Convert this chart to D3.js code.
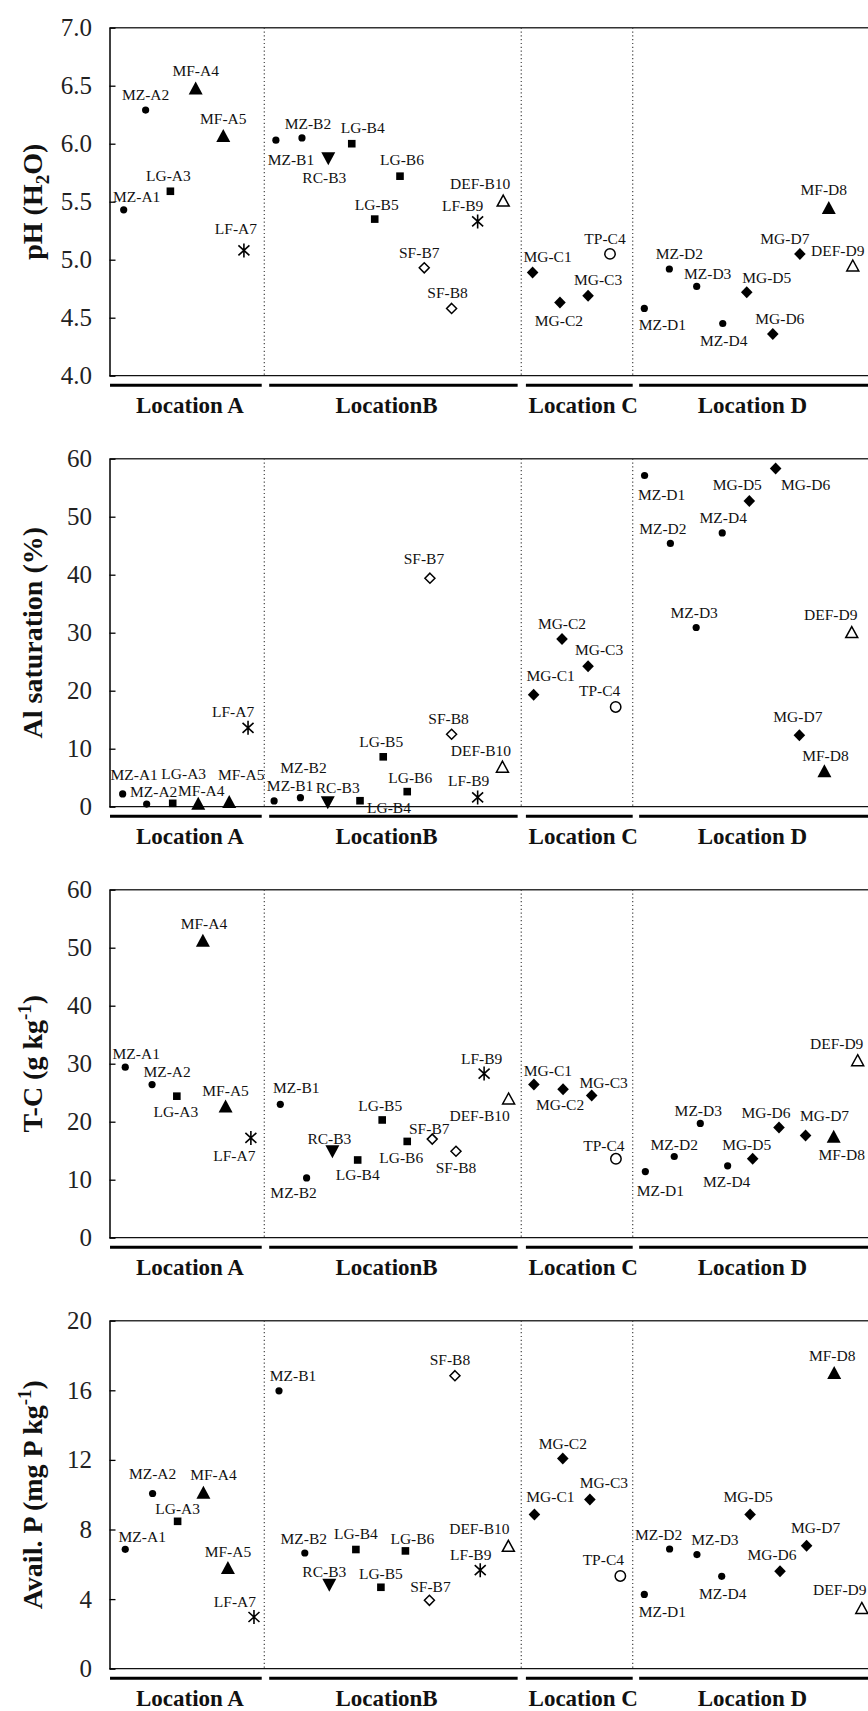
<!DOCTYPE html>
<html><head><meta charset="utf-8">
<script src="https://cdn.jsdelivr.net/npm/d3@7"></script>
<style>
body{margin:0;background:#fff}
svg{display:block}
svg text{font-family:"Liberation Serif","DejaVu Serif","Noto Serif","Liberation Sans",Arial,sans-serif;}
</style>
</head><body>
<svg id="chart" width="868" height="1711"></svg>
<script>
// ---------------- DATA ----------------
const samples = ["MZ-A1","MZ-A2","LG-A3","MF-A4","MF-A5","LF-A7",
  "MZ-B1","MZ-B2","RC-B3","LG-B4","LG-B5","LG-B6","SF-B7","SF-B8","LF-B9","DEF-B10",
  "MG-C1","MG-C2","MG-C3","TP-C4",
  "MZ-D1","MZ-D2","MZ-D3","MZ-D4","MG-D5","MG-D6","MG-D7","MF-D8","DEF-D9"];

const locations = ["Location A","LocationB","Location C","Location D"];
const locStart = [0.02, 6.19, 16.14, 20.53];   // sample-axis units
const locEnd   = [5.90, 15.82, 20.28, 29.4];
const locLabelAt = [3.12, 10.74, 18.36, 24.92];
const dividers = [6.0, 15.96, 20.28];

// x position of each sample (sample-axis units) in each panel
const xPH   = [0.55,1.40,2.36,3.34,4.41,5.21,6.45,7.46,8.48,9.39,10.28,11.26,12.20,13.26,14.27,15.26,16.40,17.46,18.55,19.40,20.73,21.70,22.76,23.77,24.70,25.71,26.76,27.88,28.81];
const xAl   = [0.51,1.44,2.45,3.44,4.64,5.37,6.38,7.40,8.46,9.71,10.61,11.54,12.42,13.26,14.27,15.23,16.44,17.54,18.55,19.62,20.74,21.74,22.74,23.75,24.80,25.82,26.74,27.71,28.77];
const xTC   = [0.61,1.65,2.61,3.62,4.50,5.48,6.62,7.64,8.64,9.62,10.57,11.54,12.51,13.43,14.52,15.47,16.45,17.58,18.69,19.63,20.77,21.89,22.90,23.96,24.93,25.95,26.98,28.07,29.00];
const xAP   = [0.61,1.67,2.64,3.64,4.59,5.60,6.57,7.57,8.52,9.55,10.52,11.47,12.40,13.39,14.37,15.46,16.47,17.57,18.62,19.80,20.73,21.71,22.77,23.73,24.83,25.99,27.02,28.09,29.16];

const phValues = [5.43,6.29,5.59,6.48,6.07,5.08,6.03,6.05,5.87,6.00,5.35,5.72,4.93,4.58,5.33,5.51,4.89,4.63,4.69,5.05,4.58,4.92,4.77,4.45,4.72,4.36,5.05,5.45,4.95];
const alSatValues = [2.2,0.46,0.58,0.6,0.9,13.6,1.0,1.55,0.67,1.03,8.6,2.6,39.4,12.5,1.6,6.9,19.3,28.9,24.2,17.2,57.1,45.4,30.9,47.2,52.7,58.3,12.3,6.2,30.1];
const tcValues = [29.4,26.4,24.4,51.3,22.7,17.2,23.0,10.3,14.8,13.4,20.3,16.6,17.0,14.9,28.3,24.0,26.4,25.6,24.5,13.6,11.4,14.0,19.7,12.4,13.6,19.0,17.6,17.5,30.6];
const availPValues = [6.86,10.07,8.47,10.14,5.81,2.97,15.97,6.65,4.79,6.85,4.68,6.77,3.93,16.84,5.66,7.06,8.86,12.08,9.72,5.33,4.27,6.88,6.56,5.31,8.86,5.60,7.06,17.03,3.49];

const phTicks = [4.0,4.5,5.0,5.5,6.0,6.5,7.0];
const alTicks = [0,10,20,30,40,50,60];
const tcTicks = [0,10,20,30,40,50,60];
const apTicks = [0,4,8,12,16,20];

// ---------------- LABEL PLACEMENT (style: [dx, dy] from marker) ----------------
const labPH = [[13,-8],[0,-10],[-2,-10],[0,-12],[0,-12],[-8,-16],[15,25],[6,-9],[-4,24],[11,-11],[2,-9],[2,-11],[-5,-10],[-4,-10],[-15,-10],[-23,-12],[15,-10],[-1,23],[10,-11],[-5,-10],[18,22],[10,-10],[11,-7],[1,22],[20,-9],[7,-10],[-15,-10],[-5,-13],[-15,-10]];
const labAl = [[11.5,-14],[7,-7],[11,-24],[3,-7],[12,-21],[-15,-11],[16,-10],[3,-25],[10,-10],[29,12],[-2,-10],[3,-9],[-6,-14],[-3,-10],[-9,-11],[-21.5,-11],[17,-14],[0,-10],[11,-11],[-16,-11],[17,24],[-7.5,-9],[-2,-9],[1,-10],[-12,-11],[30,21],[-1.5,-13],[1,-10],[-21,-12]];
const labTC = [[11,-8],[15,-8],[-1,21],[1,-11],[0,-10],[-16.5,23],[16,-11],[-13,20],[-3,-8],[0,20],[-2,-9],[-6,22],[-3,-5],[0,22],[-2.5,-10],[-29,22],[14,-9],[-3,21],[12,-8],[-12,-8],[15,24],[0,-7],[-2,-7],[-1,21],[-6,-9],[-13,-10],[19,-15],[8,24],[-21,-11]];
const labAP = [[17,-7],[0,-14],[0,-7],[10,-12],[0,-11],[-19,-10],[14,-10],[-1,-9],[-5,-8],[0,-11],[0,-8],[7,-7],[1,-8],[-5,-11],[-9.5,-10],[-29,-12],[16,-13],[0,-10],[14,-12],[-17,-11],[18,23],[-11,-9],[18,-10],[1,23],[-2,-13],[-8,-11],[9,-13],[-2,-11],[-22,-13]];

const panels = [
  {values: phValues, xs: xPH, domain:[4,7], ticks: phTicks, fmt: d3.format(".1f"), labels: labPH,
   title: [["pH (H",""],["2","sub"],["O)",""]]},
  {values: alSatValues, xs: xAl, domain:[0,60], ticks: alTicks, fmt: d3.format("d"), labels: labAl,
   title: [["Al saturation (%)",""]]},
  {values: tcValues, xs: xTC, domain:[0,60], ticks: tcTicks, fmt: d3.format("d"), labels: labTC,
   title: [["T-C (g kg",""],["-1","sup"],[")",""]]},
  {values: availPValues, xs: xAP, domain:[0,20], ticks: apTicks, fmt: d3.format("d"), labels: labAP,
   title: [["Avail. P (mg P kg",""],["-1","sup"],[")",""]]}
];

// ---------------- LAYOUT ----------------
const svg = d3.select("#chart");
const left = 109.5, right = 868;
const top0 = 27.7, panelH = 348, step = 431;
const x = d3.scaleLinear().domain([0, 29.4]).range([left, right]);

function drawMarker(g, type) {
  switch (type) {
    case "MZ": g.append("circle").attr("r",3.6).attr("fill","#000"); break;
    case "LG": g.append("rect").attr("x",-3.8).attr("y",-3.8).attr("width",7.6).attr("height",7.6).attr("fill","#000"); break;
    case "MF": g.append("path").attr("d","M0,-6.5L7,6.5L-7,6.5Z").attr("fill","#000"); break;
    case "RC": g.append("path").attr("d","M0,6.5L7,-6.5L-7,-6.5Z").attr("fill","#000"); break;
    case "MG": g.append("path").attr("d","M0,-6L5.8,0L0,6L-5.8,0Z").attr("fill","#000"); break;
    case "SF": g.append("path").attr("d","M0,-5L5,0L0,5L-5,0Z").attr("fill","#fff").attr("stroke","#000").attr("stroke-width",1.5); break;
    case "DEF": g.append("path").attr("d","M0,-5.5L6,5.5L-6,5.5Z").attr("fill","#fff").attr("stroke","#000").attr("stroke-width",1.5); break;
    case "TP": g.append("circle").attr("r",5.2).attr("fill","#fff").attr("stroke","#000").attr("stroke-width",1.5); break;
    case "LF": g.append("path").attr("d","M0,-7L0,7M-5.5,-5L5.5,5M-5.5,5L5.5,-5").attr("fill","none").attr("stroke","#000").attr("stroke-width",1.6); break;
  }
}

panels.forEach((p, i) => {
  const top = top0 + i * step, bottom = top + panelH;
  const y = d3.scaleLinear().domain(p.domain).range([bottom, top]);
  const g = svg.append("g");

  g.append("line").attr("x1",left).attr("x2",right).attr("y1",top).attr("y2",top)
    .attr("stroke","#333").attr("stroke-width",1.4);
  g.append("line").attr("x1",left).attr("x2",right).attr("y1",bottom).attr("y2",bottom)
    .attr("stroke","#111").attr("stroke-width",1.2);

  g.selectAll("line.div").data(dividers).join("line").attr("class","div")
    .attr("x1",d=>x(d)).attr("x2",d=>x(d)).attr("y1",top).attr("y2",bottom)
    .attr("stroke","#444").attr("stroke-width",1.2).attr("stroke-dasharray","1.2,2.6");

  const ax = d3.axisLeft(y).tickValues(p.ticks).tickFormat(p.fmt)
    .tickSizeInner(-6).tickSizeOuter(0).tickPadding(17.5);
  const axG = g.append("g").attr("transform",`translate(${left},0)`).call(ax);
  axG.attr("font-family", null);
  axG.select(".domain").attr("stroke","#000").attr("stroke-width",1.5);
  axG.selectAll(".tick line").attr("stroke","#000").attr("stroke-width",1.3);
  axG.selectAll(".tick text").attr("font-size",25).attr("fill","#222");

  const t = svg.append("text")
    .attr("transform",`translate(42,${(top+bottom)/2}) rotate(-90)`)
    .attr("text-anchor","middle").attr("font-weight","bold")
    .attr("font-size",28).attr("fill","#111");
  let shift = 0;
  p.title.forEach(([txt, kind]) => {
    const ts = t.append("tspan").text(txt);
    const target = kind === "sub" ? 7 : kind === "sup" ? -11 : 0;
    if (target !== shift) { ts.attr("dy", target - shift); shift = target; }
    if (kind) ts.attr("font-size", 19);
  });

  const barY = bottom + 9.5;
  locations.forEach((name, k) => {
    g.append("line").attr("x1",x(locStart[k])).attr("x2",x(locEnd[k]))
      .attr("y1",barY).attr("y2",barY).attr("stroke","#000").attr("stroke-width",3);
    g.append("text").attr("x",x(locLabelAt[k])).attr("y",bottom+37.3)
      .attr("text-anchor","middle").attr("font-weight","bold")
      .attr("font-size",23).attr("fill","#111").text(name);
  });

  samples.forEach((name, k) => {
    const px = x(p.xs[k]), py = y(p.values[k]);
    const mg = g.append("g").attr("transform",`translate(${px},${py})`);
    drawMarker(mg, name.split("-")[0]);
  });
  samples.forEach((name, k) => {
    const px = x(p.xs[k]), py = y(p.values[k]);
    const [dx, dy] = p.labels[k];
    g.append("text").attr("x",px+dx).attr("y",py+dy).attr("text-anchor","middle")
      .attr("font-size",15.5).attr("fill","#111").text(name);
  });
});
</script>
</body></html>
